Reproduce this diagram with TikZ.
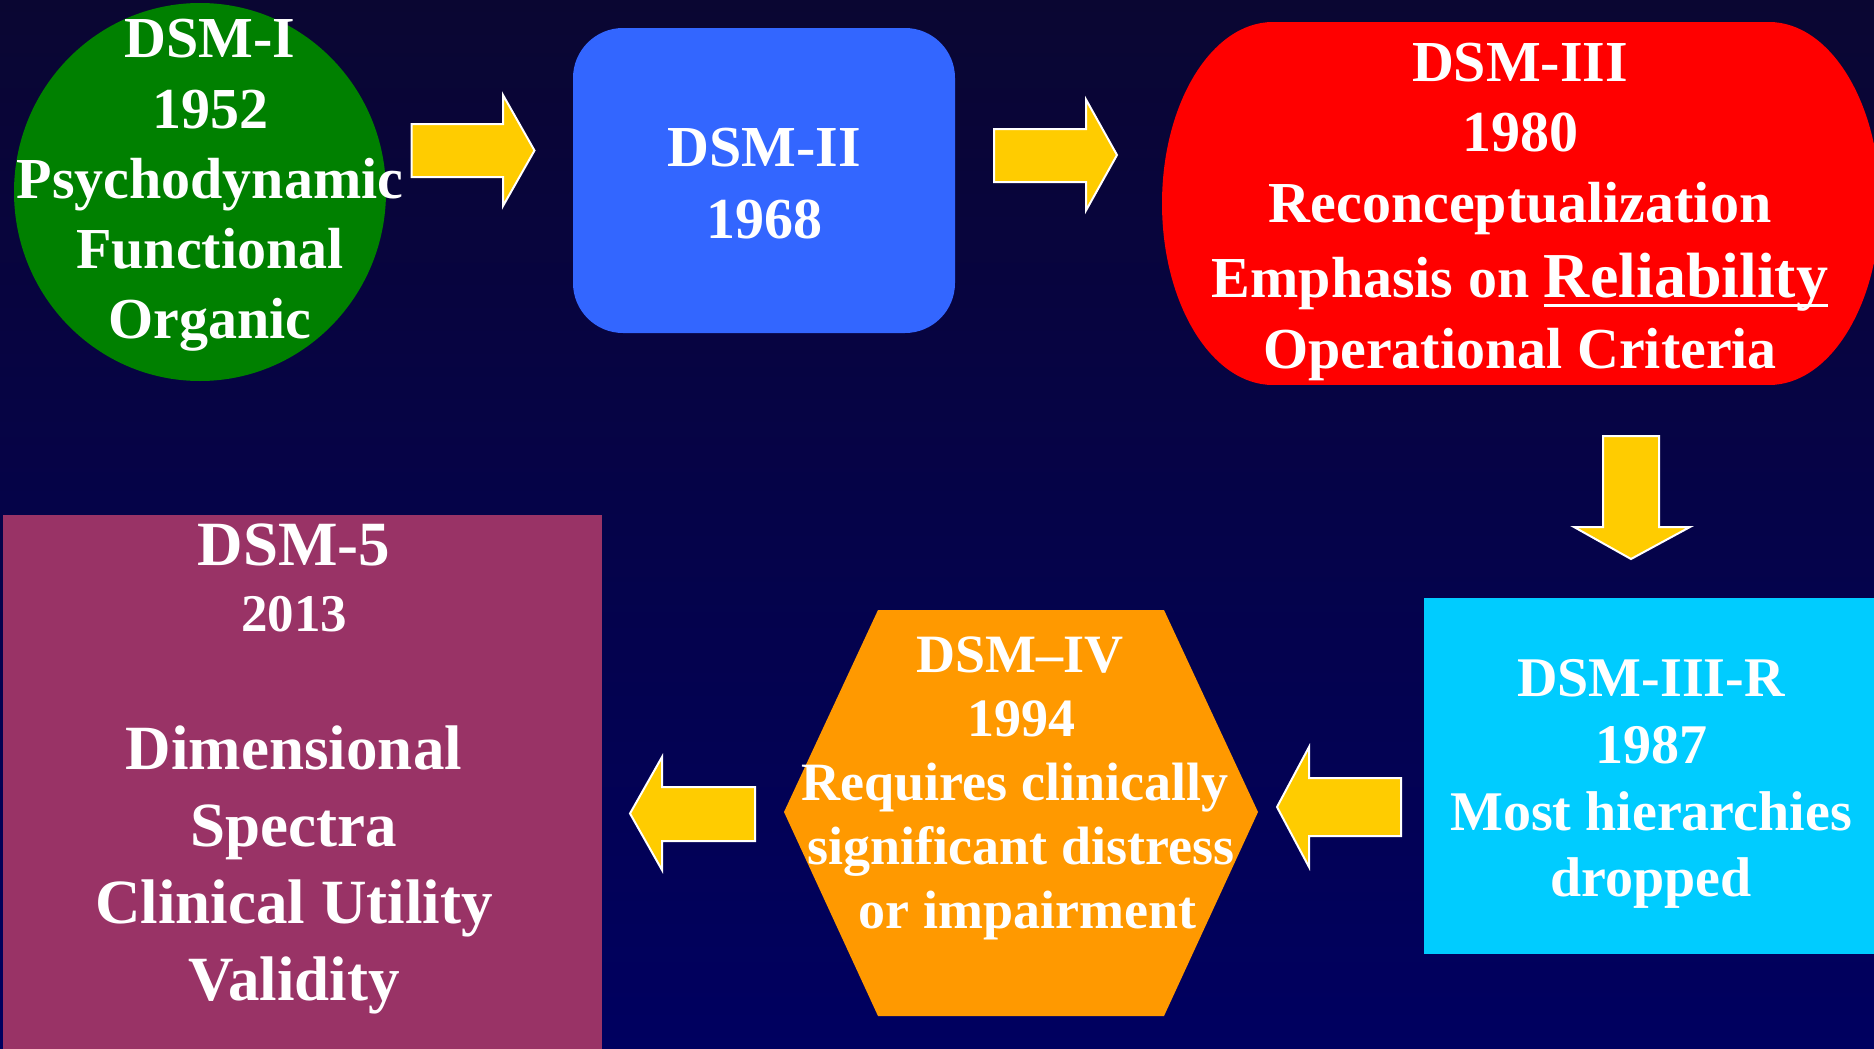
\documentclass[tikz,border=0pt]{standalone}
\usepackage{fontspec}
\setmainfont{Liberation Serif}
\definecolor{bgtop}{RGB}{10,6,50}
\definecolor{bgmid}{RGB}{0,0,92}
\definecolor{bgbot}{RGB}{0,0,96}
\definecolor{dsmgreen}{RGB}{0,128,0}
\definecolor{dsmblue}{RGB}{51,102,255}
\definecolor{dsmred}{RGB}{255,0,0}
\definecolor{dsmfive}{RGB}{153,51,102}
\definecolor{dsmorange}{RGB}{255,153,0}
\definecolor{dsmcyan}{RGB}{0,204,255}
\definecolor{arrowyellow}{RGB}{255,204,0}
\newcommand{\ulword}[1]{\setbox0=\hbox{#1}\rlap{\rule[-4.75pt]{\wd0}{1.5pt}}\box0}
\begin{document}
\begin{tikzpicture}[x=0.5pt,y=-0.5pt,
  lbl/.style={text=white, inner sep=0pt, anchor=base},
  fgreen/.style={font=\bfseries\fontsize{29}{34}\selectfont},
  fred/.style={font=\bfseries\fontsize{29}{34}\selectfont},
  fcyan/.style={font=\bfseries\fontsize{28}{33}\selectfont},
  fhex/.style={font=\bfseries\fontsize{27}{32}\selectfont},
  fbig/.style={font=\bfseries\fontsize{31.5}{37}\selectfont},
  fyear/.style={font=\bfseries\fontsize{26.5}{31}\selectfont},
  blockarrow/.style={fill=arrowyellow, draw=white, line width=1pt, line join=miter}]
\useasboundingbox (0,0) rectangle (1874,1049);
\clip (0,0) rectangle (1874,1049);
% background
\shade[top color=bgtop, middle color=bgmid, bottom color=bgbot] (0,0) rectangle (1874,1049);

% shapes
\fill[dsmgreen] (200,192) ellipse [x radius=186, y radius=189];
\fill[dsmblue, rounded corners=25pt] (573,28) rectangle (955,333);
\fill[dsmred] (1273,22) rectangle (1769,385);
\fill[dsmred] (1273,203.5) ellipse [x radius=111, y radius=181.5];
\fill[dsmred] (1769,203.5) ellipse [x radius=111, y radius=181.5];
\fill[dsmcyan] (1424,598) rectangle (1880,954);
\fill[dsmorange] (784,812) -- (878,610) -- (1164,610) -- (1258,812) -- (1164,1016) -- (878,1016) -- cycle;
\fill[dsmfive] (3,515) rectangle (602,1060);

% block arrows
\draw[blockarrow] (411.5,124) -- (503,124) -- (503,95) -- (534.5,150.5) -- (503,206) -- (503,177) -- (411.5,177) -- cycle;
\draw[blockarrow] (994,129) -- (1086,129) -- (1086,99.5) -- (1117,155) -- (1086,210.5) -- (1086,182) -- (994,182) -- cycle;
\draw[blockarrow] (1603,436) -- (1659,436) -- (1659,527) -- (1690,527) -- (1631,559) -- (1574,527) -- (1603,527) -- cycle;
\draw[blockarrow] (1401,778) -- (1309,778) -- (1309,747) -- (1277,807) -- (1309,867) -- (1309,836) -- (1401,836) -- cycle;
\draw[blockarrow] (755,787) -- (662,787) -- (662,757) -- (630,813.5) -- (662,870) -- (662,841) -- (755,841) -- cycle;

% DSM-I
\node[lbl, fgreen] (g1) at (210,57) {DSM-I};
\node[lbl, fgreen] (g2) at (210,128) {1952};
\node[lbl, fgreen] (g3) at (210,198) {Psychodynamic};
\node[lbl, fgreen] (g4) at (210,268) {Functional};
\node[lbl, fgreen] (g5) at (210,338) {Organic};
% DSM-II
\node[lbl, fgreen] (b1) at (764,166.7) {DSM-II};
\node[lbl, fgreen] (b2) at (764,238) {1968};
% DSM-III
\node[lbl, fred] (r1) at (1520,81) {DSM-III};
\node[lbl, fred] (r2) at (1520,151) {1980};
\node[lbl, fred] (r3) at (1520,222) {Reconceptualization};
\node[lbl, fred] (r4) at (1520,297) {Emphasis on \ulword{\fontsize{32}{38}\selectfont Reliability}};
\node[lbl, fred] (r5) at (1520,368) {Operational Criteria};
% DSM-III-R
\node[lbl, fcyan] (c1) at (1651,696.7) {DSM-III-R};
\node[lbl, fcyan] (c2) at (1651,763.3) {1987};
\node[lbl, fcyan] (c3) at (1651,830) {Most hierarchies};
\node[lbl, fcyan] (c4) at (1651,896.7) {dropped};
% DSM-IV
\node[lbl, fhex] (h1) at (1020,672.7) {DSM--IV};
\node[lbl, fhex] (h2) at (1021,736.7) {1994};
\node[lbl, fhex] (h3) at (1015,800) {Requires clinically};
\node[lbl, fhex] (h4) at (1021,864) {significant distress};
\node[lbl, fhex] (h5) at (1027.5,928) {or impairment};
% DSM-5
\node[lbl, fbig] (f1) at (294,565) {DSM-5};
\node[lbl, fyear] (f2) at (294,631) {2013};
\node[lbl, fbig] (f3) at (294,769) {Dimensional};
\node[lbl, fbig] (f4) at (294,846.5) {Spectra};
\node[lbl, fbig] (f5) at (294,923.5) {Clinical Utility};
\node[lbl, fbig] (f6) at (294,1000.5) {Validity};
\end{tikzpicture}
\end{document}
